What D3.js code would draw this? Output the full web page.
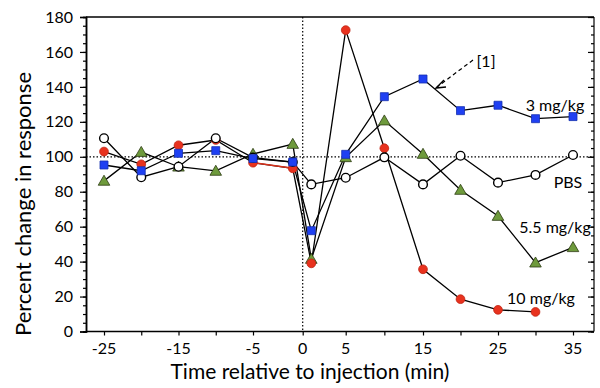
<!DOCTYPE html>
<html>
<head>
<meta charset="utf-8">
<script src="https://cdn.jsdelivr.net/npm/d3@7"></script>
<style>
  body { margin: 0; background: #fff; }
  text { font-family: Lato, "Open Sans", sans-serif; fill: #000; }
</style>
</head>
<body>
<svg id="chart" width="600" height="388"></svg>
<script>
// time points (min)
var times = [-25, -20, -15, -10, -5, -1, 1, 5, 10, 15, 20, 25, 30, 35];

// percent change (null = no point)
var pbs     = [110.6, 88.3, 94.3, 110.6, 99.5, 97, 84.2, 88, 99.7, 84.2, 100.6, 85.2, 89.6, 101];
var mg3     = [95.3, 92, 102, 103.5, 99, 97, 57.7, 101.4, 134.4, 144.5, 126.4, 129.5, 121.8, 123];
var mg55    = [86.2, 102.7, 94.3, 91.9, 101.6, 107.3, 41.5, 99.7, 120.7, 101.6, 81, 66.1, 39.4, 48.2];
var mg10    = [103, 95.7, 106.6, 109.6, 96.6, 93.4, 39, 172.5, 104.9, 35.6, 18.5, 12.4, 11.2, null];

var xTickLabels = [-25, -15, -5, 0, 5, 15, 25, 35];
var yTicks = [0, 20, 40, 60, 80, 100, 120, 140, 160, 180];

var svg = d3.select("#chart");

var pLeft = 86, pRight = 594, pTop = 17, pBottom = 331.5;

// the time axis is stretched a bit around the injection
var x = d3.scaleLinear()
    .domain([-25, -5, 0, 5, 15, 35])
    .range([104, 253, 302.7, 345.7, 423, 573]);

var y = d3.scaleLinear()
    .domain([0, 180])
    .range([pBottom, pTop]);

// reference lines
svg.append("line")
    .attr("x1", pLeft).attr("x2", pRight)
    .attr("y1", y(100)).attr("y2", y(100))
    .attr("stroke", "#000").attr("stroke-width", 1.2)
    .attr("stroke-dasharray", "1.5,2");

svg.append("line")
    .attr("x1", x(0)).attr("x2", x(0))
    .attr("y1", pTop).attr("y2", pBottom)
    .attr("stroke", "#000").attr("stroke-width", 1.2)
    .attr("stroke-dasharray", "1.5,2");

// frame
svg.append("line").attr("x1", pLeft).attr("x2", pRight).attr("y1", pTop).attr("y2", pTop)
    .attr("stroke", "#000").attr("stroke-width", 1.5);
svg.append("line").attr("x1", pRight).attr("x2", pRight).attr("y1", pTop).attr("y2", pBottom)
    .attr("stroke", "#000").attr("stroke-width", 1.2);

var minorY = d3.range(0, 181, 5);

// left axis
var gl = svg.append("g").attr("transform", "translate(" + pLeft + ",0)");
gl.append("g").call(d3.axisLeft(y).tickValues(minorY).tickSize(3).tickFormat(""));
gl.append("g").call(d3.axisLeft(y).tickValues(yTicks).tickSize(6).tickPadding(7).tickFormat(d3.format("d")));
gl.selectAll(".domain").attr("stroke-width", 1.5);
gl.selectAll("line").attr("stroke-width", 1.2);
gl.selectAll("text").style("font-size", "16px").style("font-family", "Lato");

// right axis, ticks inside
var gr = svg.append("g").attr("transform", "translate(" + pRight + ",0)");
gr.append("g").call(d3.axisRight(y).tickValues(minorY).tickSize(-3).tickFormat(""));
gr.append("g").call(d3.axisRight(y).tickValues(yTicks).tickSize(-6).tickFormat(""));
gr.selectAll(".domain").remove();
gr.selectAll("line").attr("stroke-width", 1.2);

// bottom axis
var gb = svg.append("g").attr("transform", "translate(0," + pBottom + ")");
gb.call(d3.axisBottom(x).tickValues(d3.range(-25, 36, 5)).tickSize(4).tickFormat(""));
gb.selectAll(".domain").remove();
gb.selectAll("line").attr("stroke-width", 1.2);
gb.append("line").attr("x1", pLeft).attr("x2", pRight)
    .attr("stroke", "#000").attr("stroke-width", 1.5);

gb.selectAll(".xlab")
    .data(xTickLabels).enter()
    .append("text")
    .attr("class", "xlab")
    .attr("x", function(d) { return x(d); })
    .attr("y", 22.5)
    .attr("text-anchor", "middle")
    .style("font-size", "16px")
    .text(function(d) { return d; });

// axis titles
svg.append("text")
    .attr("x", 310).attr("y", 379)
    .attr("text-anchor", "middle")
    .style("font-size", "21px")
    .text("Time relative to injection (min)");

svg.append("text")
    .attr("transform", "translate(31,204) rotate(-90)")
    .attr("text-anchor", "middle")
    .style("font-size", "22px")
    .text("Percent change in response");

// series
var series = [
    { name: "5.5 mg/kg", vals: mg55, shape: "triangle", fill: "#6e9a3c", stroke: "#2c3b12" },
    { name: "10 mg/kg", vals: mg10, shape: "circle", fill: "#e8321e", stroke: "#c02414" },
    { name: "PBS", vals: pbs, shape: "circle", fill: "#fff", stroke: "#000" },
    { name: "3 mg/kg", vals: mg3, shape: "square", fill: "#1f40f2", stroke: "#1530b0" }
];

var line = d3.line()
    .defined(function(d) { return d[1] != null; })
    .x(function(d) { return x(d[0]); })
    .y(function(d) { return y(d[1]); });

series.forEach(function(s) {
    var pts = times.map(function(t, i) { return [t, s.vals[i]]; });
    svg.append("path")
        .datum(pts)
        .attr("d", line)
        .attr("fill", "none")
        .attr("stroke", "#000")
        .attr("stroke-width", 1.3);
});

// the -5 to -1 segment of the 10 mg/kg line is red in the figure
svg.append("line")
    .attr("x1", x(-5)).attr("y1", y(mg10[4]))
    .attr("x2", x(-1)).attr("y2", y(mg10[5]))
    .attr("stroke", "#d9301a").attr("stroke-width", 1.5);

var sym = {
    triangle: d3.symbol().type(d3.symbolTriangle).size(58),
    circle: d3.symbol().type(d3.symbolCircle).size(60),
    square: d3.symbol().type(d3.symbolSquare).size(64)
};

series.forEach(function(s) {
    var pts = times.map(function(t, i) { return [t, s.vals[i]]; })
        .filter(function(d) { return d[1] != null; });
    svg.selectAll(null)
        .data(pts).enter()
        .append("path")
        .attr("d", sym[s.shape])
        .attr("transform", function(d) {
            var dy = s.shape == "triangle" ? 1 : 0;
            return "translate(" + x(d[0]) + "," + (y(d[1]) + dy) + ")";
        })
        .attr("fill", s.fill)
        .attr("stroke", s.stroke)
        .attr("stroke-width", s.fill == "#fff" ? 1.4 : 0.8);
});

// series labels
var labels = [
    { text: "3 mg/kg", x: 555, y: 111 },
    { text: "PBS", x: 568, y: 188 },
    { text: "5.5 mg/kg", x: 555, y: 233 },
    { text: "10 mg/kg", x: 541, y: 304 }
];
svg.selectAll(".slab")
    .data(labels).enter()
    .append("text")
    .attr("class", "slab")
    .attr("x", function(d) { return d.x; })
    .attr("y", function(d) { return d.y; })
    .attr("text-anchor", "middle")
    .style("font-size", "16px")
    .text(function(d) { return d.text; });

// [1] annotation with dashed arrow
svg.append("text")
    .attr("x", 486).attr("y", 67)
    .attr("text-anchor", "middle")
    .style("font-size", "16px")
    .text("[1]");

svg.append("line")
    .attr("x1", 473).attr("y1", 60)
    .attr("x2", 437).attr("y2", 87)
    .attr("stroke", "#000").attr("stroke-width", 1.2)
    .attr("stroke-dasharray", "4,3");

svg.append("path")
    .attr("d", "M444,80 L436,88 L446,87")
    .attr("fill", "none")
    .attr("stroke", "#000")
    .attr("stroke-width", 1.4);
</script>
</body>
</html>
